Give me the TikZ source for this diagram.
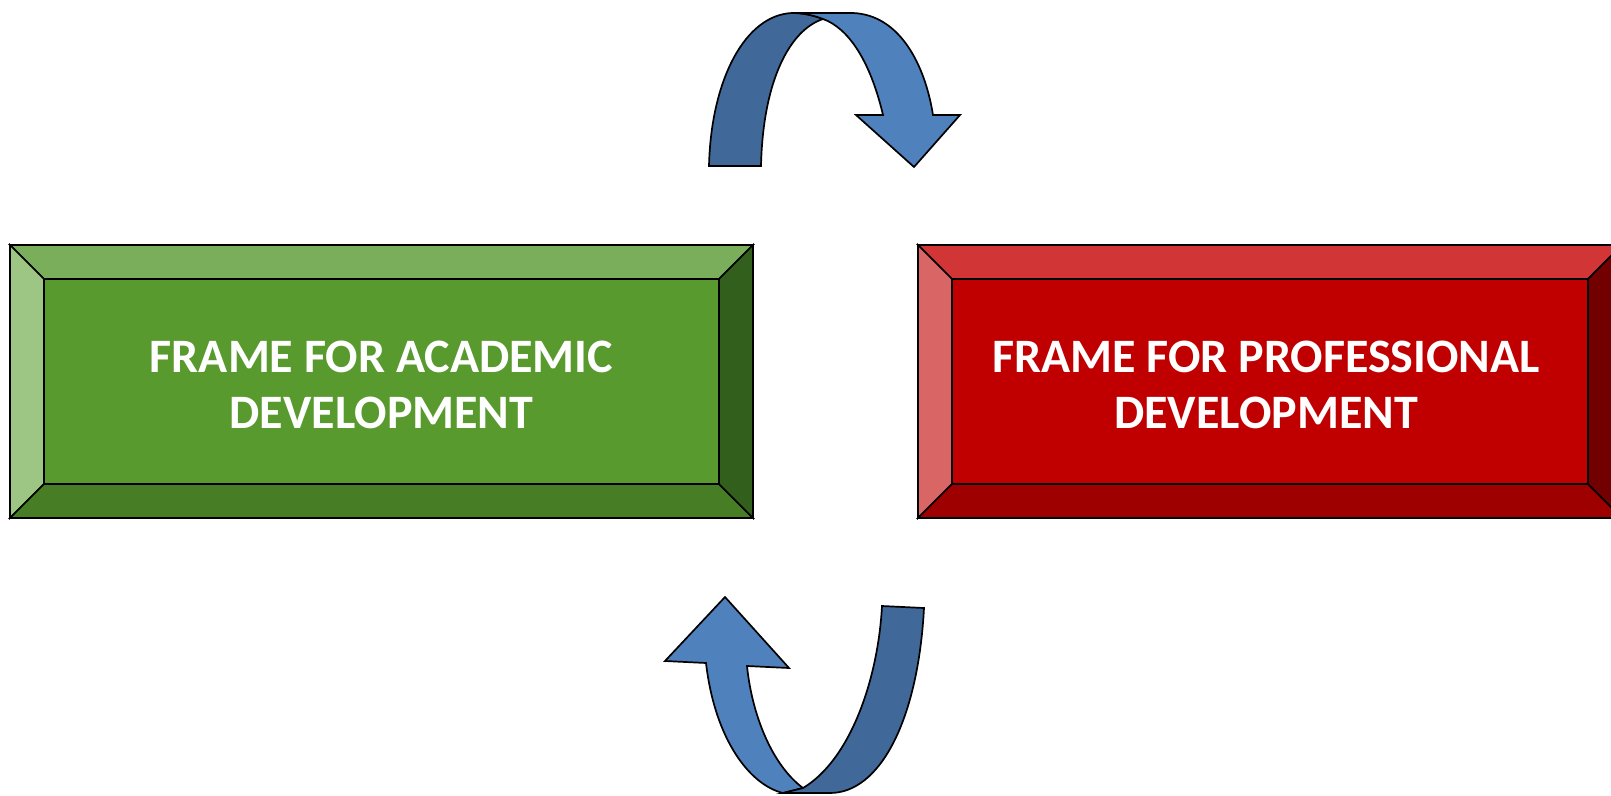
\documentclass[tikz,border=0pt]{standalone}
\usepackage{fontspec}
\setmainfont{Carlito}

% colours of the two frames
\definecolor{greenfront}{HTML}{589A2E}
\definecolor{greentop}{HTML}{7AAE5A}
\definecolor{greenleft}{HTML}{9DC584}
\definecolor{greenbottom}{HTML}{467D25}
\definecolor{greenright}{HTML}{335F1C}
\definecolor{redfront}{HTML}{C00000}
\definecolor{redtop}{HTML}{D13535}
\definecolor{redleft}{HTML}{DA6565}
\definecolor{redbottom}{HTML}{9E0000}
\definecolor{redright}{HTML}{720000}
\definecolor{arrowlight}{HTML}{4F81BD}
\definecolor{arrowdark}{HTML}{40699A}

% bevelled frame: x1, y1, x2, y2, colour prefix (bevel 34)
\newcommand{\bevelframe}[5]{%
  \filldraw[fill=#5top] (#1,#2) -- (#3,#2) -- ({#3-34},{#2+34}) -- ({#1+34},{#2+34}) -- cycle;
  \filldraw[fill=#5left] (#1,#2) -- ({#1+34},{#2+34}) -- ({#1+34},{#4-34}) -- (#1,#4) -- cycle;
  \filldraw[fill=#5bottom] (#1,#4) -- ({#1+34},{#4-34}) -- ({#3-34},{#4-34}) -- (#3,#4) -- cycle;
  \filldraw[fill=#5right] (#3,#2) -- (#3,#4) -- ({#3-34},{#4-34}) -- ({#3-34},{#2+34}) -- cycle;
  \filldraw[fill=#5front] ({#1+34},{#2+34}) rectangle ({#3-34},{#4-34});
}

\begin{document}
\begin{tikzpicture}[x=1pt, y=-1pt, line width=1.7pt,
    frametext/.style={text=white, align=center,
      font=\fontsize{48}{56}\selectfont\bfseries}]
    \useasboundingbox (0,0) rectangle (1611,795);
    \clip (0,0) rectangle (1611,795);

    % Frames
    \bevelframe{10}{245}{753}{518}{green}
    \bevelframe{918}{245}{1622}{518}{red}
    \node[frametext] (academic) at (381.5,385) {FRAME FOR ACADEMIC\\DEVELOPMENT};
    \node[frametext] (professional) at (1266,385) {FRAME FOR PROFESSIONAL\\DEVELOPMENT};

    % Upper curved arrow (back part, then front part)
    \filldraw[fill=arrowdark] (709,166) -- (761,166)
      .. controls (763,80) and (790,30) .. (823,19)
      .. controls (810,14) and (800,13) .. (792,13)
      .. controls (745,15) and (711,80) .. (709,166) -- cycle;
    \filldraw[fill=arrowlight] (792,13) -- (853,13)
      .. controls (900,15) and (925,65) .. (933,115)
      -- (960,115) -- (914,167) -- (856,115) -- (883,115)
      .. controls (870,60) and (848,28) .. (823,19)
      .. controls (810,14) and (800,13) .. (792,13) -- cycle;

    % Lower curved arrow (front part, then back part)
    \filldraw[fill=arrowlight] (725,597) -- (789,668) -- (747,666)
      .. controls (752,715) and (772,765) .. (803,788)
      -- (783,793)
      .. controls (750,785) and (715,740) .. (706,663)
      -- (665,661) -- cycle;
    \filldraw[fill=arrowdark] (882,606) -- (924,608)
      .. controls (918,720) and (880,793) .. (830,793)
      -- (783,793) -- (803,788)
      .. controls (850,760) and (878,680) .. (882,606) -- cycle;
\end{tikzpicture}
\end{document}
